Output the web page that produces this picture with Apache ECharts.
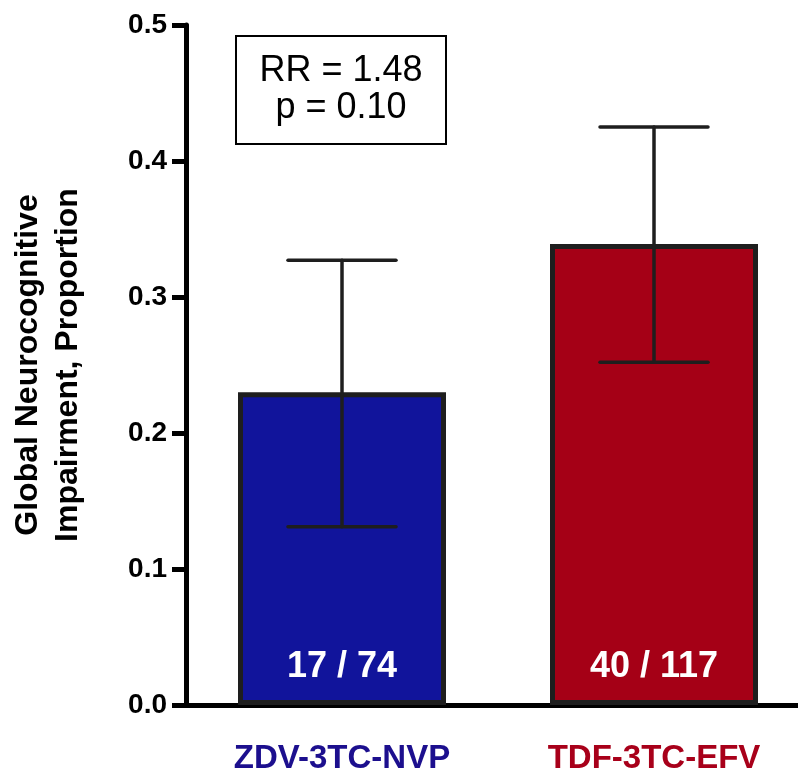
<!DOCTYPE html>
<html>
<head>
<meta charset="utf-8">
<script src="https://cdn.jsdelivr.net/npm/echarts@6/dist/echarts.min.js"></script>
<style>html,body{margin:0;padding:0;background:#fff;overflow:hidden;}#c{width:810px;height:779px;}</style>
</head>
<body>
<div id="c"></div>
<script>
var categories = ['ZDV-3TC-NVP', 'TDF-3TC-EFV'];
var values = [0.23, 0.339];
var errLow = [0.131, 0.252];
var errHigh = [0.327, 0.425];
var barLabels = ['17 / 74', '40 / 117'];
var barColors = ['#11149b', '#a50016'];
var catColors = ['#1c0f8e', '#a8001a'];
var yTicks = [0, 0.1, 0.2, 0.3, 0.4, 0.5];
var annotation = ['RR = 1.48', 'p = 0.10'];

var chart = echarts.init(document.getElementById('c'), null, {renderer: 'canvas'});
var font = 'Liberation Sans, Arial, Helvetica, sans-serif';

var option = {
  animation: false,
  backgroundColor: '#fff',
  grid: {left: 181, top: 25, bottom: 74, right: 0, containLabel: false},
  xAxis: {
    type: 'category',
    data: categories,
    axisLine: {lineStyle: {color: '#000', width: 5}},
    axisTick: {alignWithLabel: true, length: 14, lineStyle: {color: '#000', width: 5}},
    axisLabel: {
      margin: 37,
      fontFamily: font, fontWeight: 'bold', fontSize: 33,
      color: function (v, i) { return catColors[i]; }
    },
    splitLine: {show: false}
  },
  yAxis: {
    type: 'value',
    min: 0, max: 0.5, interval: 0.1,
    name: 'Global Neurocognitive\nImpairment, Proportion',
    nameLocation: 'middle',
    nameRotate: 90,
    nameGap: 98,
    nameTextStyle: {fontFamily: font, fontWeight: 'bold', fontSize: 32, lineHeight: 40, color: '#000'},
    axisLine: {show: true, lineStyle: {color: '#000', width: 5}},
    axisTick: {show: true, length: 14, lineStyle: {color: '#000', width: 5}},
    axisLabel: {
      margin: 19, fontFamily: font, fontWeight: 'bold', fontSize: 28, color: '#000',
      formatter: function (v) { return v.toFixed(1); }
    },
    splitLine: {show: false}
  },
  series: [
    {
      type: 'bar',
      barWidth: 208,
      data: values.map(function (v, i) {
        return {value: v, itemStyle: {color: barColors[i]}};
      }),
      itemStyle: {borderColor: '#1e1e1e', borderWidth: 5},
      label: {
        show: true, position: 'insideBottom', distance: 20,
        fontFamily: font, fontWeight: 'bold', fontSize: 36, color: '#fff',
        formatter: function (p) { return barLabels[p.dataIndex]; }
      },
      z: 2
    },
    {
      type: 'custom',
      z: 5,
      data: categories.map(function (c, i) { return [i, errLow[i], errHigh[i]]; }),
      renderItem: function (params, api) {
        var x = api.value(0);
        var lo = api.coord([x, api.value(1)]);
        var hi = api.coord([x, api.value(2)]);
        var half = 54;
        var style = {stroke: '#1e1e1e', lineWidth: 3.5, lineCap: 'round'};
        return {
          type: 'group',
          children: [
            {type: 'line', shape: {x1: lo[0], y1: lo[1], x2: hi[0], y2: hi[1]}, style: style},
            {type: 'line', shape: {x1: hi[0] - half, y1: hi[1], x2: hi[0] + half, y2: hi[1]}, style: style},
            {type: 'line', shape: {x1: lo[0] - half, y1: lo[1], x2: lo[0] + half, y2: lo[1]}, style: style}
          ]
        };
      }
    }
  ],
  graphic: [
    {
      type: 'group',
      left: 235, top: 35,
      children: [
        {type: 'rect', shape: {x: 0, y: 0, width: 210, height: 108}, style: {fill: '#fff', stroke: '#000', lineWidth: 2}},
        {type: 'text', style: {x: 105, y: 54, text: annotation.join('\n'), fontFamily: font, fontSize: 36, lineHeight: 37, fill: '#000', textAlign: 'center', textVerticalAlign: 'middle'}}
      ]
    }
  ]
};
chart.setOption(option);
</script>
</body>
</html>
